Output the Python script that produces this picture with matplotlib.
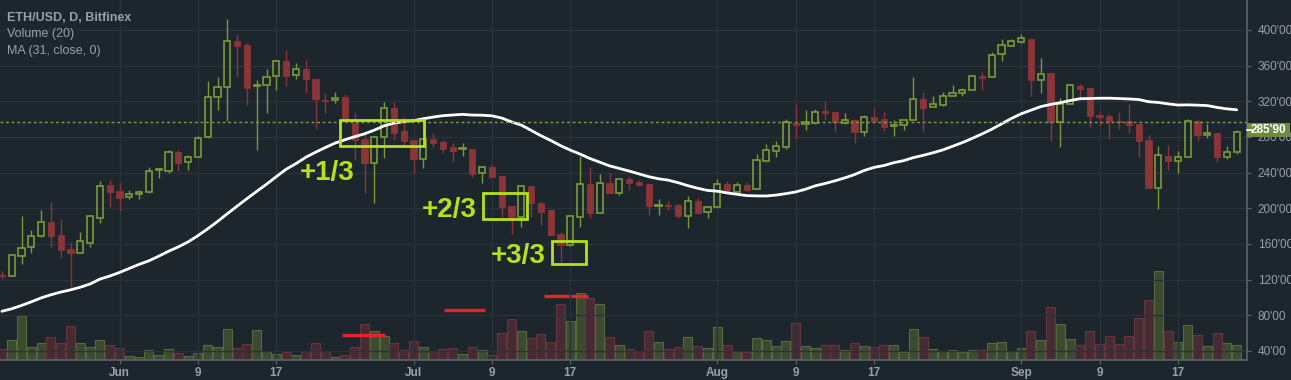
import matplotlib
matplotlib.use("Agg")
import matplotlib.pyplot as plt
from matplotlib.patches import Rectangle
from matplotlib.transforms import blended_transform_factory
import numpy as np
import pandas as pd

plt.rcParams['font.family'] = ['Liberation Sans', 'DejaVu Sans']

# ---------------- data ----------------
dates = pd.date_range('2017-05-20', periods=127, freq='D')

opens = [125.0, 124.4, 146.8, 156.2, 168.6, 184.3, 170.0, 154.3, 150.2, 161.4,
         188.8, 226.1, 219.4, 212.3, 215.7, 218.0, 242.5, 242.2, 263.2, 251.6,
         257.2, 279.6, 325.2, 336.4, 387.3, 383.2, 336.8, 338.6, 348.7, 364.9,
         349.5, 355.9, 344.7, 321.8, 321.5, 324.5, 296.1, 277.7, 251.2, 279.6,
         312.1, 286.7, 276.6, 254.9, 277.7, 274.0, 268.4, 266.1, 266.1, 239.2,
         245.9, 236.2, 202.6, 190.6, 225.0, 205.6, 198.1, 171.2, 158.4, 190.6,
         227.3, 195.1, 228.8, 216.8, 232.5, 229.9, 227.3, 202.6, 203.7, 203.7,
         191.7, 208.2, 195.5, 201.1, 226.9, 218.6, 226.1, 221.3, 253.4, 264.6,
         269.1, 296.0, 294.2, 296.0, 309.1, 307.6, 296.0, 299.0, 285.9, 302.0,
         300.2, 291.9, 293.1, 298.7, 322.2, 313.2, 316.2, 325.6, 329.0, 332.3,
         348.0, 346.9, 372.7, 381.7, 386.9, 389.9, 343.9, 351.8, 296.4, 316.6,
         337.2, 334.9, 304.3, 303.5, 297.9, 297.9, 294.6, 276.6, 223.1, 258.6,
         253.4, 257.2, 297.9, 282.5, 284.1, 257.2, 262.8]
highs = [129.7, 148.0, 191.4, 175.7, 198.1, 207.1, 188.0, 162.2, 173.4, 192.5,
         230.6, 231.7, 228.0, 220.5, 220.5, 246.7, 244.9, 265.4, 265.4, 259.8,
         281.1, 343.1, 346.9, 412.0, 395.5, 385.8, 343.9, 355.9, 366.3, 377.6,
         362.6, 366.3, 345.0, 329.0, 330.1, 327.9, 306.5, 287.1, 279.6, 318.9,
         318.9, 302.0, 276.6, 277.7, 284.1, 276.6, 272.9, 273.6, 266.1, 247.5,
         248.6, 236.2, 202.6, 226.1, 225.0, 207.4, 198.1, 173.8, 191.4, 259.0,
         245.9, 238.1, 239.2, 232.5, 236.2, 231.7, 227.3, 210.4, 208.2, 204.8,
         213.8, 211.2, 202.6, 232.9, 230.6, 229.1, 229.1, 260.9, 271.7, 275.5,
         299.8, 317.0, 310.3, 311.4, 320.3, 307.6, 306.9, 300.5, 304.6, 312.9,
         307.6, 299.0, 298.7, 346.9, 330.1, 326.0, 330.1, 338.3, 334.6, 348.0,
         352.5, 375.7, 389.5, 389.9, 395.1, 390.7, 368.6, 351.8, 323.3, 339.4,
         339.4, 334.9, 308.0, 305.8, 308.4, 317.0, 294.6, 282.2, 270.3, 271.0,
         264.3, 300.2, 299.0, 294.6, 284.1, 270.3, 287.8]
lows = [120.7, 124.0, 137.5, 150.2, 168.0, 156.9, 144.2, 112.1, 150.0, 156.9,
        183.9, 201.8, 197.3, 210.1, 210.8, 217.0, 233.6, 239.3, 242.2, 243.0,
        257.0, 279.0, 310.3, 298.3, 346.9, 315.9, 265.4, 306.6, 332.7, 337.5,
        345.0, 329.0, 288.6, 306.6, 317.8, 298.0, 254.2, 216.8, 205.6, 256.0,
        276.6, 268.4, 239.2, 244.8, 268.4, 261.6, 251.6, 259.0, 235.5, 228.0,
        235.5, 190.6, 171.2, 179.4, 190.6, 181.3, 170.0, 140.1, 157.7, 179.4,
        188.8, 195.1, 216.8, 214.9, 220.5, 225.0, 192.0, 192.5, 198.1, 189.5,
        178.3, 193.6, 189.5, 201.1, 216.0, 218.6, 219.8, 221.3, 251.9, 257.9,
        266.1, 277.7, 287.8, 294.5, 299.0, 286.0, 294.5, 273.6, 281.5, 297.9,
        286.7, 281.5, 287.8, 298.7, 285.9, 313.2, 314.7, 325.6, 325.6, 332.3,
        333.1, 346.9, 365.6, 381.7, 385.0, 325.9, 329.7, 275.9, 269.1, 316.6,
        322.2, 291.6, 292.7, 277.3, 288.6, 284.1, 257.2, 223.1, 199.6, 242.9,
        240.0, 257.2, 275.9, 278.5, 252.3, 254.9, 260.9]
closes = [124.4, 147.3, 155.1, 168.6, 184.3, 169.3, 153.2, 150.2, 163.0, 191.0,
          224.7, 218.6, 211.9, 215.7, 218.0, 241.8, 243.5, 262.8, 251.2, 257.2,
          278.5, 325.2, 336.4, 387.3, 382.4, 335.3, 338.6, 347.6, 364.9, 348.7,
          355.9, 344.7, 322.3, 320.0, 324.1, 299.8, 276.6, 251.2, 279.6, 312.1,
          284.8, 275.5, 254.9, 277.7, 273.6, 266.5, 264.6, 266.9, 238.5, 245.9,
          235.5, 201.8, 190.6, 225.0, 205.6, 196.2, 170.0, 158.4, 191.4, 227.3,
          195.1, 228.0, 216.8, 232.5, 228.8, 226.1, 202.6, 203.7, 202.6, 191.7,
          208.2, 195.1, 201.1, 226.9, 218.6, 225.8, 220.5, 253.8, 265.0, 269.5,
          296.4, 293.8, 296.8, 308.4, 306.9, 296.4, 298.7, 285.9, 302.0, 297.9,
          291.6, 293.1, 298.7, 322.2, 312.9, 316.6, 325.6, 329.0, 332.3, 348.0,
          346.5, 371.6, 382.8, 387.3, 390.7, 343.9, 350.3, 296.4, 316.6, 337.9,
          333.8, 303.9, 302.4, 298.3, 296.4, 293.4, 275.9, 223.1, 259.4, 253.4,
          257.2, 297.9, 282.2, 284.4, 257.2, 262.8, 285.9]
volumes = [10.7, 19.7, 44, 13, 17, 23, 17, 34, 17, 13,
           19.7, 15, 12, 4, 3, 9.7, 5, 10.7, 7, 4,
           7, 15, 13, 30.7, 12, 16, 29.7, 9, 6, 8,
           5, 9, 17, 9, 3, 5, 13, 35.7, 29, 24,
           17, 10, 19, 13, 9, 11, 11.7, 6, 13, 9.7,
           5, 26.7, 41, 29, 22, 26, 18, 55.7, 39, 66.7,
           62, 55.7, 23, 15, 11, 9, 29, 18, 11, 13,
           23, 14, 12, 33, 15, 9, 8, 22, 20, 14,
           19, 37, 14, 12, 15, 15, 10, 17, 14, 13,
           15, 15, 8, 31, 23, 11, 9, 10, 8, 10,
           10, 17, 18, 9, 12, 29, 20, 53, 36, 21,
           15, 29, 16, 24, 16, 24, 42, 60, 89, 29,
           18, 35, 25, 14, 27, 17, 15]
# MA(31) values for the first 30 days (before a full window exists)
ma_head = [84.5, 87.3, 91.0, 95.1, 99.5, 103.0, 106.0, 108.5, 111.5, 115.1,
           120.6, 124.0, 128.0, 132.6, 137.1, 141.1, 146.3, 151.8, 156.7, 162.3,
           169.3, 177.0, 185.2, 193.9, 202.4, 210.8, 219.0, 227.0, 235.5, 243.8]
tick_dates = pd.to_datetime(['2017-06-01', '2017-06-09', '2017-06-17', '2017-07-01',
                             '2017-07-09', '2017-07-17', '2017-08-01', '2017-08-09',
                             '2017-08-17', '2017-09-01', '2017-09-09', '2017-09-17'])
price_ticks = [40, 80, 120, 160, 200, 240, 280, 320, 360, 400]
last_price_label = "285'90"

# ---------------- styling ----------------
BG = '#1d252d'
GRID = '#29323c'
GREEN = '#7a9a3a'
RED = '#8c3538'
VGREEN_F, VGREEN_E = '#3c4a31', '#566b3a'
VRED_F, VRED_E = '#472b33', '#66363f'
LIME = '#b6e11c'
TXT = '#9aa0a7'
SPINE = '#5c636c'

W, H = 1291, 380
fig = plt.figure(figsize=(W / 100, H / 100), dpi=100, facecolor=BG)
rect = [0, 20 / H, 1246.7 / W, 360 / H]
ax_vol = fig.add_axes(rect)
ax_vol.set_facecolor(BG)
ax = fig.add_axes(rect, sharex=ax_vol)
ax.set_facecolor('none')

n = len(dates)
x = np.arange(n)
o, h, l, c = map(np.asarray, (opens, highs, lows, closes))
up = c >= o

# volume
ax_vol.bar(x[up], np.asarray(volumes)[up], width=0.92, color=VGREEN_F,
           edgecolor=VGREEN_E, linewidth=0.8, zorder=1)
ax_vol.bar(x[~up], np.asarray(volumes)[~up], width=0.92, color=VRED_F,
           edgecolor=VRED_E, linewidth=0.8, zorder=1)
ax_vol.set_ylim(0, 360)
ax_vol.axis('off')

# red marks on volume
for (x0, x1, v) in [(34.7, 39.1, 25.3), (45.1, 49.3, 50.0), (55.3, 59.8, 64.0)]:
    ax_vol.plot([x0, x1], [v, v], color='#e8232a', lw=2.4, solid_capstyle='butt', zorder=3)

# grid
for t in price_ticks:
    ax.axhline(t, color=GRID, lw=1, zorder=0)
tick_pos = [dates.get_loc(d) for d in tick_dates]
for p in tick_pos:
    ax.axvline(p, color=GRID, lw=1, zorder=0)

# candles
bw = 0.62
for i in range(n):
    col = GREEN if up[i] else RED
    top, bot = max(o[i], c[i]), min(o[i], c[i])
    ax.vlines(i, top, h[i], color=col, lw=1.0, zorder=2)
    ax.vlines(i, l[i], bot, color=col, lw=1.0, zorder=2)
    hgt = max(top - bot, 1.2)
    if up[i]:
        ax.add_patch(Rectangle((i - bw / 2, bot), bw, hgt, facecolor='none',
                               edgecolor=col, lw=1.2, zorder=2))
    else:
        ax.add_patch(Rectangle((i - bw / 2, bot), bw, hgt, facecolor=col,
                               edgecolor=col, lw=0.6, zorder=2))

# moving average
ma = pd.Series(closes).rolling(31).mean().to_numpy()
ma[:30] = ma_head
ax.plot(x, ma, color='white', lw=2.0, zorder=3, solid_capstyle='round')

# last price dotted line
ax.axhline(296.5, color='#80a03a', lw=1.0, ls=(0, (2, 2)), zorder=3)

# annotations
for (x0, x1, y0, y1) in [(34.5, 43.07, 269.9, 299.0), (49.06, 53.6, 188.0, 216.8),
                         (56.1, 59.57, 137.5, 163.7)]:
    ax.add_patch(Rectangle((x0, y0), x1 - x0, y1 - y0, facecolor='none',
                           edgecolor=LIME, lw=2.0, zorder=4))
for (tx, ty, s) in [(30.4, 231.7, '+1/3'), (42.84, 190.6, '+2/3'), (49.88, 138.3, '+3/3')]:
    ax.text(tx, ty, s, color=LIME, fontsize=20, fontweight='bold', ha='left',
            va='baseline', zorder=5)

# axes limits
ax.set_xlim(-0.194, 127.02)
ax.set_ylim(29.85, 433.65)

# spines
for s in ['left', 'top']:
    ax.spines[s].set_visible(False)
for s in ['right', 'bottom']:
    ax.spines[s].set_color(SPINE)
    ax.spines[s].set_linewidth(1.2)

ax.yaxis.tick_right()
ax.set_yticks(price_ticks)
ax.set_yticklabels([f"{t}'00" for t in price_ticks])
ax.tick_params(axis='y', colors=SPINE, labelcolor=TXT, length=3, pad=5, labelsize=8.5)

ax.set_xticks(tick_pos)
ax.set_xticklabels([d.strftime('%b') if d.day == 1 else str(d.day) for d in tick_dates],
                   fontweight='bold')
ax.tick_params(axis='x', colors=SPINE, labelcolor=TXT, length=3, pad=2, labelsize=8.5)

# last price label
tr = blended_transform_factory(ax.transAxes, ax.transData)
ax.add_patch(Rectangle((1.0, 280.3), 0.0348, 15.7, transform=tr, facecolor='#6d8b3a',
                       edgecolor='none', clip_on=False, zorder=6))
ax.plot([1.0, 1.004], [287.5, 287.5], transform=tr, color='white', lw=1.2,
        clip_on=False, zorder=7)
ax.text(1.0175, 288.1, last_price_label, transform=tr, color='white', fontsize=8.5,
        fontweight='bold', ha='center', va='center', clip_on=False, zorder=7)

# legend-style header text
fig.text(7 / W, 1 - 20.7 / H, 'ETH/USD, D, Bitfinex', color=TXT, fontsize=9,
         fontweight='bold', va='baseline', ha='left')
fig.text(7 / W, 1 - 37 / H, 'Volume (20)', color=TXT, fontsize=9, va='baseline', ha='left')
fig.text(7 / W, 1 - 54 / H, 'MA (31, close, 0)', color=TXT, fontsize=9, va='baseline', ha='left')

fig.savefig('out.png', dpi=100, facecolor=BG)
